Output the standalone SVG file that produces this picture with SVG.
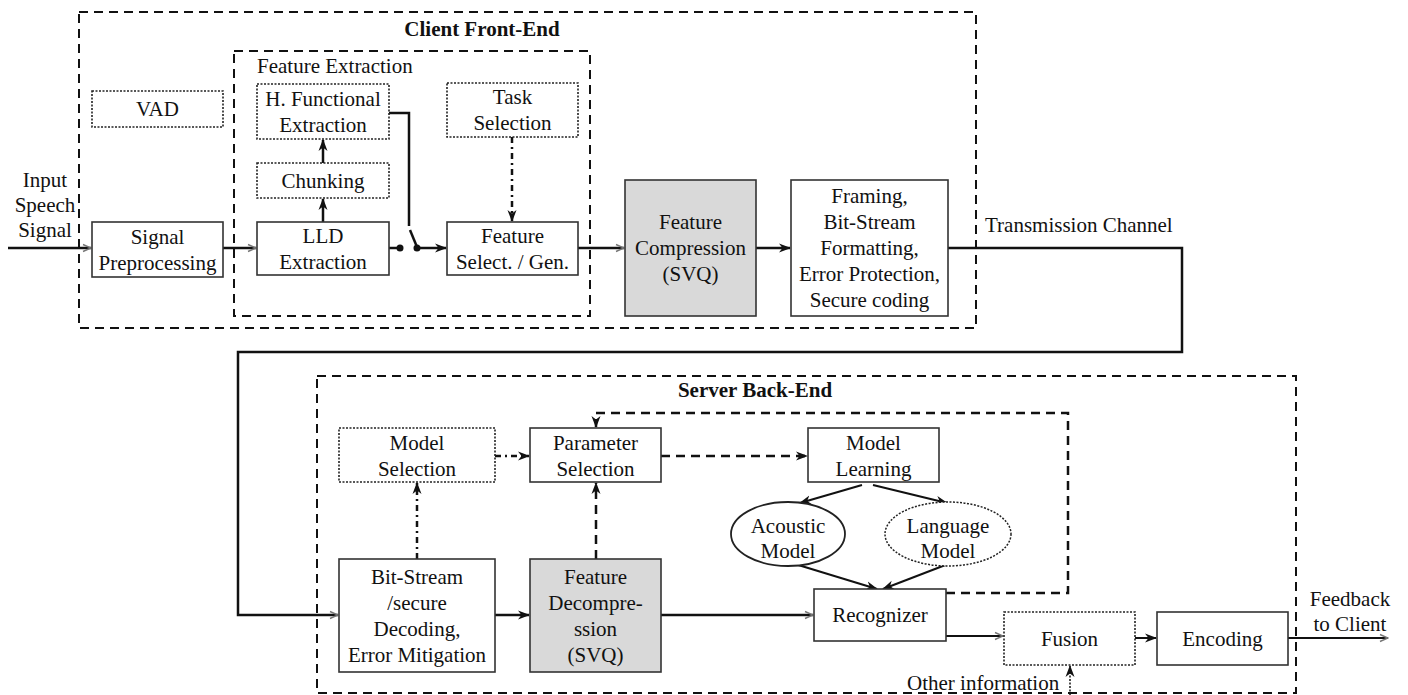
<svg xmlns="http://www.w3.org/2000/svg" width="1408" height="695" viewBox="0 0 1408 695">
<defs>
<style>
text{font-family:"Liberation Serif","Times New Roman",serif;font-size:21px;fill:#111;text-anchor:middle}
.b{font-weight:bold}
.l{text-anchor:start}
.box{fill:#fff;stroke:#333;stroke-width:1.6}
.gray{fill:#d9d9d9;stroke:#333;stroke-width:1.6}
.dot{fill:#fff;stroke:#222;stroke-width:1.6;stroke-dasharray:2 1.5}
.grp{fill:none;stroke:#111;stroke-width:2;stroke-dasharray:9 6}
.ln{fill:none;stroke:#111;stroke-width:2.5}
.lt{fill:none;stroke:#111;stroke-width:2}
.dash{fill:none;stroke:#111;stroke-width:2.5;stroke-dasharray:9 6}
.dd{fill:none;stroke:#111;stroke-width:2.5;stroke-dasharray:6 4 2 4}
.dt{fill:none;stroke:#111;stroke-width:1.5;stroke-dasharray:2 1.5}
</style>
<marker id="ah" viewBox="0 0 12 10" refX="11" refY="5" markerWidth="12" markerHeight="10" markerUnits="userSpaceOnUse" orient="auto"><path d="M0,0.5 L12,5 L0,9.5 L3.5,5 z" fill="#111"/></marker>
<marker id="ao" viewBox="0 0 10 10" refX="9" refY="5" markerWidth="10" markerHeight="10" markerUnits="userSpaceOnUse" orient="auto"><path d="M1,1.5 L9,5 L1,8.5" fill="none" stroke="#777" stroke-width="1.4"/></marker>
</defs>
<rect width="1408" height="695" fill="#fff"/>

<g id="groups">
<rect class="grp" x="79" y="12" width="897" height="316"/>
<text class="b" x="482" y="36">Client Front-End</text>
<rect class="grp" x="234" y="51" width="356" height="265"/>
<text class="l" x="257" y="73">Feature Extraction</text>
<rect class="grp" x="317" y="376" width="979" height="317"/>
<text class="b" x="755" y="397">Server Back-End</text>
</g>

<g id="connectors">
<line class="ln" x1="8" y1="248" x2="91" y2="248" marker-end="url(#ao)"/>
<line class="ln" x1="223" y1="248" x2="256" y2="248" marker-end="url(#ao)"/>
<line class="ln" x1="323" y1="222" x2="323" y2="199" marker-end="url(#ah)"/>
<line class="ln" x1="323" y1="163" x2="323" y2="140" marker-end="url(#ah)"/>
<polyline class="ln" points="389,113 409,113 409,226"/>
<line class="ln" x1="410" y1="230" x2="417" y2="247"/>
<line class="ln" x1="389" y1="248" x2="400" y2="248"/>
<circle cx="400" cy="248" r="3.5" fill="#111"/>
<circle cx="417" cy="248" r="3.5" fill="#111"/>
<line class="ln" x1="417" y1="248" x2="446" y2="248" marker-end="url(#ah)"/>
<line class="dd" x1="512" y1="137" x2="512" y2="221" marker-end="url(#ah)"/>
<line class="ln" x1="578" y1="248" x2="624" y2="248" marker-end="url(#ao)"/>
<line class="ln" x1="756" y1="248" x2="790" y2="248" marker-end="url(#ah)"/>
<polyline class="ln" points="948,248 1182,248 1182,352 238,352 238,615 338,615" marker-end="url(#ao)"/>
<line class="ln" x1="495" y1="615" x2="529" y2="615" marker-end="url(#ah)"/>
<line class="ln" x1="661" y1="615" x2="813" y2="615" marker-end="url(#ao)"/>
<line class="dd" x1="417" y1="559" x2="417" y2="483" marker-end="url(#ah)"/>
<line class="dash" x1="596" y1="559" x2="596" y2="483" marker-end="url(#ah)"/>
<line class="dd" x1="495" y1="456" x2="529" y2="456" marker-end="url(#ah)"/>
<line class="dash" x1="661" y1="456" x2="807" y2="456" marker-end="url(#ah)"/>
<polyline class="dash" points="946,593 1068,593 1068,413 596,413 596,427" marker-end="url(#ah)"/>
<line class="lt" x1="862" y1="485" x2="800" y2="503" marker-end="url(#ah)"/>
<line class="lt" x1="873" y1="485" x2="947" y2="503" marker-end="url(#ah)"/>
<line class="lt" x1="795" y1="564" x2="877" y2="589" marker-end="url(#ah)"/>
<line class="lt" x1="948" y1="564" x2="883" y2="589" marker-end="url(#ah)"/>
<line class="lt" x1="946" y1="636" x2="1003" y2="636" marker-end="url(#ao)"/>
<line class="lt" x1="1135" y1="638" x2="1156" y2="638" marker-end="url(#ah)"/>
<line class="lt" x1="1288" y1="638" x2="1388" y2="638" marker-end="url(#ao)"/>
<line class="dt" x1="1070" y1="695" x2="1070" y2="666" marker-end="url(#ah)"/>
</g>

<g id="labels">
<text x="45" y="187">Input</text>
<text x="45" y="212">Speech</text>
<text x="45" y="237">Signal</text>
<text class="l" x="985" y="232">Transmission Channel</text>
<text x="1350" y="606">Feedback</text>
<text x="1350" y="631">to Client</text>
<text class="l" x="907" y="690">Other information</text>
</g>

<g id="vad"><rect class="dot" x="92" y="91" width="131" height="36"/><text x="157.5" y="116">VAD</text></g>
<g id="signal-pre"><rect class="box" x="92" y="222" width="131" height="55"/><text x="157.5" y="243.5">Signal</text><text x="157.5" y="269.5">Preprocessing</text></g>
<g id="hfunc"><rect class="dot" x="257" y="84" width="132" height="55"/><text x="323" y="105.5">H. Functional</text><text x="323" y="131.5">Extraction</text></g>
<g id="chunking"><rect class="dot" x="257" y="163" width="132" height="35"/><text x="323" y="187.5">Chunking</text></g>
<g id="lld"><rect class="box" x="257" y="222" width="132" height="53"/><text x="323" y="242.5">LLD</text><text x="323" y="268.5">Extraction</text></g>
<g id="task"><rect class="dot" x="447" y="83" width="131" height="54"/><text x="512.5" y="104">Task</text><text x="512.5" y="130">Selection</text></g>
<g id="featsel"><rect class="box" x="447" y="222" width="131" height="53"/><text x="512.5" y="242.5">Feature</text><text x="512.5" y="268.5">Select. / Gen.</text></g>
<g id="featcomp"><rect class="gray" x="625" y="180" width="131" height="136"/><text x="690.5" y="229">Feature</text><text x="690.5" y="255">Compression</text><text x="690.5" y="281">(SVQ)</text></g>
<g id="framing"><rect class="box" x="791" y="180" width="157" height="136"/><text x="869.5" y="203">Framing,</text><text x="869.5" y="229">Bit-Stream</text><text x="869.5" y="255">Formatting,</text><text x="869.5" y="281">Error Protection,</text><text x="869.5" y="307">Secure coding</text></g>

<g id="modelsel"><rect class="dot" x="339" y="428" width="156" height="54"/><text x="417" y="450">Model</text><text x="417" y="476">Selection</text></g>
<g id="paramsel"><rect class="box" x="530" y="428" width="131" height="54"/><text x="595.5" y="450">Parameter</text><text x="595.5" y="476">Selection</text></g>
<g id="modellearn"><rect class="box" x="808" y="428" width="131" height="54"/><text x="873.5" y="450">Model</text><text x="873.5" y="476">Learning</text></g>
<g id="acoustic"><ellipse cx="788" cy="534" rx="57" ry="32" fill="#fff" stroke="#222" stroke-width="1.8"/><text x="788" y="533">Acoustic</text><text x="788" y="558">Model</text></g>
<g id="language"><ellipse cx="948" cy="534" rx="63" ry="32" fill="#fff" stroke="#222" stroke-width="1.5" stroke-dasharray="2 1.5"/><text x="948" y="533">Language</text><text x="948" y="558">Model</text></g>
<g id="bitstream"><rect class="box" x="339" y="559" width="156" height="113"/><text x="417" y="584">Bit-Stream</text><text x="417" y="610">/secure</text><text x="417" y="636">Decoding,</text><text x="417" y="662">Error Mitigation</text></g>
<g id="featdecomp"><rect class="gray" x="530" y="559" width="131" height="113"/><text x="595.5" y="584">Feature</text><text x="595.5" y="610">Decompre-</text><text x="595.5" y="636">ssion</text><text x="595.5" y="662">(SVQ)</text></g>
<g id="recognizer"><rect class="box" x="814" y="589" width="132" height="52"/><text x="880" y="622">Recognizer</text></g>
<g id="fusion"><rect class="dot" x="1004" y="612" width="131" height="53"/><text x="1069.5" y="646">Fusion</text></g>
<g id="encoding"><rect class="box" x="1157" y="612" width="131" height="53"/><text x="1222.5" y="646">Encoding</text></g>
</svg>
